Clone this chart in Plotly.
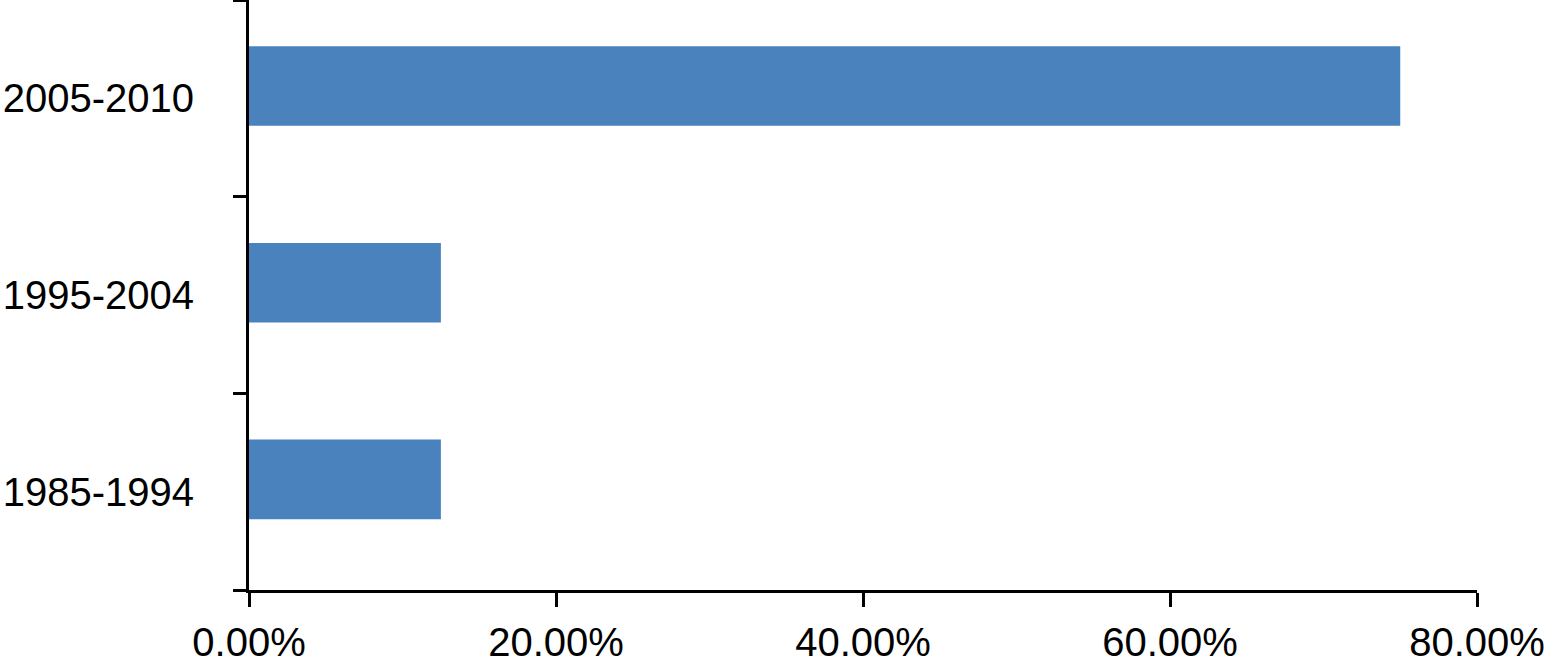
import plotly.graph_objects as go

categories = ["1985-1994", "1995-2004", "2005-2010"]
values = [12.5, 12.5, 75.0]
x_ticks = [0, 20, 40, 60, 80]
x_tick_labels = ["0.00%", "20.00%", "40.00%", "60.00%", "80.00%"]

fig = go.Figure()
fig.add_trace(go.Bar(
    y=categories, x=values, orientation="h",
    marker=dict(color="#4a82be", line=dict(width=0)),
    width=0.405, offset=-0.14,
    hoverinfo="skip",
))

fig.update_layout(
    width=1557, height=667,
    margin=dict(l=249, r=80, t=0, b=77, pad=0, autoexpand=False),
    plot_bgcolor="white", paper_bgcolor="white",
    showlegend=False,
    font=dict(family="Liberation Sans, Arial, Helvetica, sans-serif", size=40, color="black"),
)
fig.update_xaxes(
    range=[0, 80], tickvals=x_ticks, ticktext=x_tick_labels,
    showgrid=False, zeroline=False, automargin=False,
    showline=True, linecolor="black", linewidth=3,
    ticks="outside", ticklen=14, tickwidth=3, tickcolor="black",
    ticklabelstandoff=1,
)
fig.update_yaxes(
    type="category", categoryorder="array", categoryarray=categories,
    range=[-0.5, 2.5], tickson="boundaries",
    showgrid=False, zeroline=False, automargin=False,
    showline=True, linecolor="black", linewidth=3,
    ticks="outside", ticklen=13, tickwidth=3, tickcolor="black",
    ticklabelstandoff=44,
)

fig.write_html(
    "out.html",
    config={"displayModeBar": False, "staticPlot": True},
    post_script="document.body.style.margin='0';document.body.style.overflow='hidden';",
)
